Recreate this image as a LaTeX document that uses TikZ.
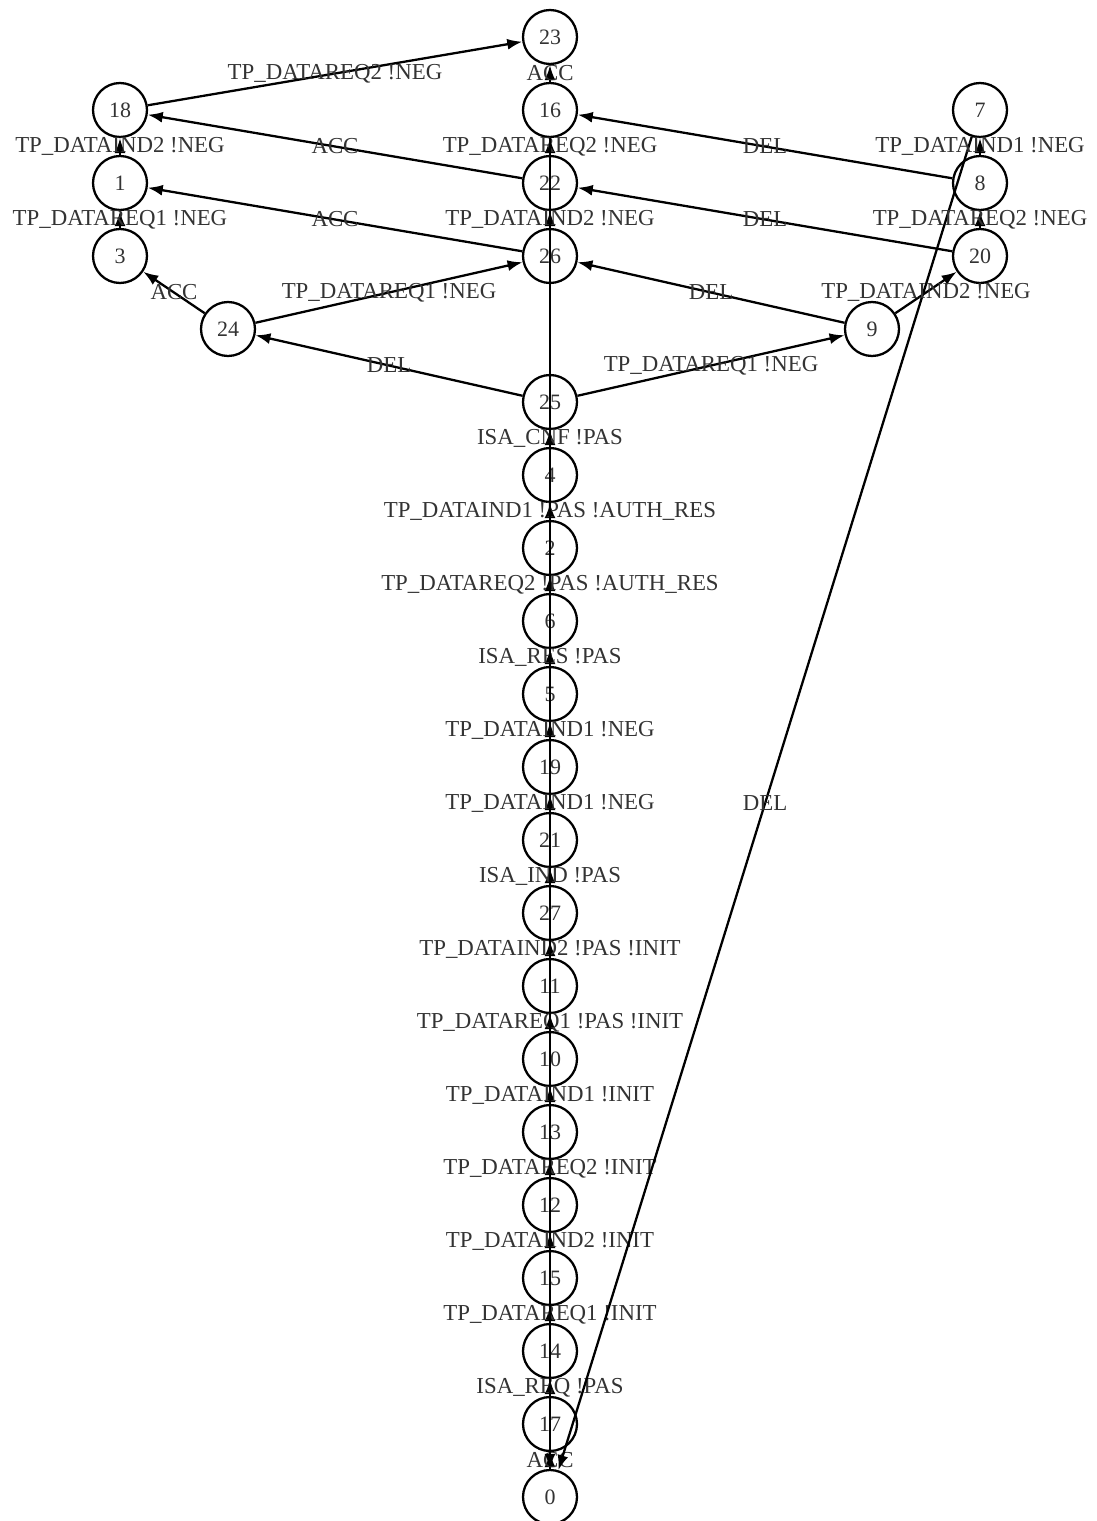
\documentclass[tikz,border=0pt]{standalone}
\usepackage{fontspec}
\setmainfont{Liberation Serif}
\usetikzlibrary{arrows.meta}

\tikzset{
  estado/.style={draw, circle, line width=1.3pt, minimum size=1.08cm, inner sep=0pt,
    font=\fontsize{12.5}{14}\selectfont, text=black!80},
  trans/.style={line width=1.3pt, -{Latex[length=3mm,width=2.2mm]},
    nodes={font=\fontsize{13}{15}\selectfont, text=black!80, inner sep=0pt}}
}

\begin{document}
\begin{tikzpicture}[x=0.02cm, y=-0.02cm]
  \useasboundingbox (0,0) rectangle (1096,1521);

  % Columna central de estados
  \foreach \n/\y in {23/37,16/110,22/183,26/256,25/402,4/475,2/548,6/621,5/694,19/767,
                     21/840,27/913,11/986,10/1059,13/1132,12/1205,15/1278,14/1351,17/1424,0/1497}
    \node[estado] (e\n) at (550,\y) {\n};

  % Estados de la izquierda
  \node[estado] (e18) at (120,110) {18};
  \node[estado] (e1) at (120,183) {1};
  \node[estado] (e3) at (120,256) {3};
  \node[estado] (e24) at (228,329) {24};

  % Estados de la derecha
  \node[estado] (e7) at (980,110) {7};
  \node[estado] (e8) at (980,183) {8};
  \node[estado] (e20) at (980,256) {20};
  \node[estado] (e9) at (872,329) {9};

  % Cadena central
  \foreach \a/\b/\t in {0/17/ACC, 17/14/ISA\_REQ !PAS, 14/15/TP\_DATAREQ1 !INIT,
      15/12/TP\_DATAIND2 !INIT, 12/13/TP\_DATAREQ2 !INIT, 13/10/TP\_DATAIND1 !INIT,
      10/11/TP\_DATAREQ1 !PAS !INIT, 11/27/TP\_DATAIND2 !PAS !INIT, 27/21/ISA\_IND !PAS,
      21/19/TP\_DATAIND1 !NEG, 19/5/TP\_DATAIND1 !NEG, 5/6/ISA\_RES !PAS,
      6/2/TP\_DATAREQ2 !PAS !AUTH\_RES, 2/4/TP\_DATAIND1 !PAS !AUTH\_RES,
      4/25/ISA\_CNF !PAS, 26/22/TP\_DATAIND2 !NEG, 22/16/TP\_DATAREQ2 !NEG, 16/23/ACC}
    \draw[trans] (e\a) -- node {\t} (e\b);

  % Vuelta al estado inicial
  \draw[trans] (e16) -- (e0);
  \draw[trans] (e7) -- node {DEL} (e0);

  % Ramas de la izquierda
  \draw[trans] (e25) -- node {DEL} (e24);
  \draw[trans] (e24) -- node {ACC} (e3);
  \draw[trans] (e24) -- node {TP\_DATAREQ1 !NEG} (e26);
  \draw[trans] (e3) -- node {TP\_DATAREQ1 !NEG} (e1);
  \draw[trans] (e1) -- node {TP\_DATAIND2 !NEG} (e18);
  \draw[trans] (e26) -- node {ACC} (e1);
  \draw[trans] (e22) -- node {ACC} (e18);
  \draw[trans] (e18) -- node {TP\_DATAREQ2 !NEG} (e23);

  % Ramas de la derecha
  \draw[trans] (e25) -- node {TP\_DATAREQ1 !NEG} (e9);
  \draw[trans] (e9) -- node {DEL} (e26);
  \draw[trans] (e9) -- node {TP\_DATAIND2 !NEG} (e20);
  \draw[trans] (e20) -- node {DEL} (e22);
  \draw[trans] (e20) -- node {TP\_DATAREQ2 !NEG} (e8);
  \draw[trans] (e8) -- node {DEL} (e16);
  \draw[trans] (e8) -- node {TP\_DATAIND1 !NEG} (e7);
\end{tikzpicture}
\end{document}
